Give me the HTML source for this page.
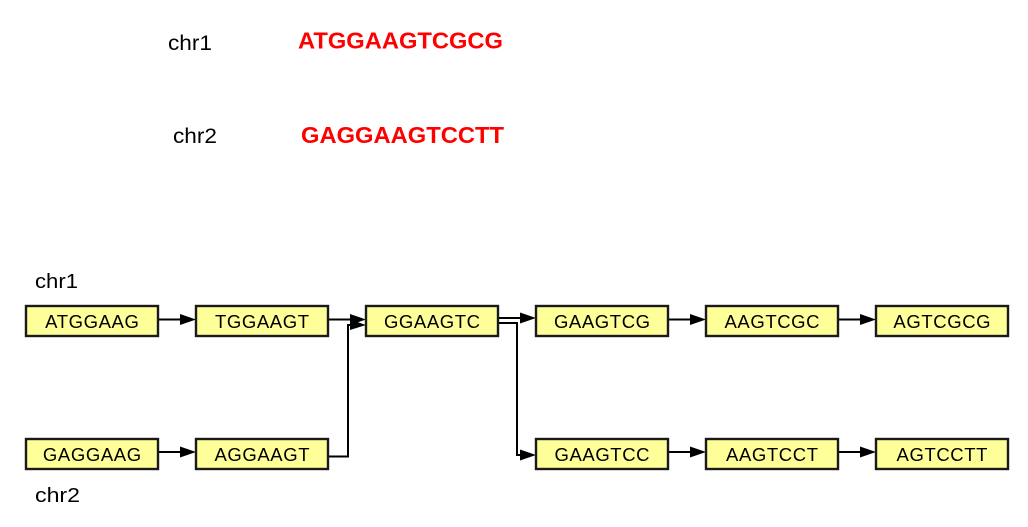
<!DOCTYPE html>
<html>
<head>
<meta charset="utf-8">
<style>
  html, body { margin: 0; padding: 0; background: #fff; }
  svg { display: block; }
  .box { fill: #FFFF99; stroke: #1a1a1a; stroke-width: 2.4; }
  .bt { font-family: "Liberation Sans", Arial, sans-serif; font-size: 18.5px; letter-spacing: 0.6px; fill: #000; text-anchor: middle; }
  .ln { stroke: #000; stroke-width: 2; fill: none; }
  .ah { fill: #000; }
  .lab { font-family: "Liberation Sans", Arial, sans-serif; fill: #000; }
  .seq { font-family: "Liberation Sans", Arial, sans-serif; font-weight: bold; fill: #FF0000; }
</style>
</head>
<body>
<svg width="1028" height="527" viewBox="0 0 1028 527" xmlns="http://www.w3.org/2000/svg">
  <!-- top sequences -->
  <text class="lab" x="168" y="50" font-size="21" textLength="44" lengthAdjust="spacingAndGlyphs">chr1</text>
  <text class="seq" x="298" y="48.5" font-size="23" textLength="205" lengthAdjust="spacingAndGlyphs">ATGGAAGTCGCG</text>
  <text class="lab" x="173" y="143" font-size="21" textLength="44" lengthAdjust="spacingAndGlyphs">chr2</text>
  <text class="seq" x="301" y="143" font-size="23" textLength="203" lengthAdjust="spacingAndGlyphs">GAGGAAGTCCTT</text>

  <!-- lower labels -->
  <text class="lab" x="35" y="288" font-size="20" textLength="43" lengthAdjust="spacingAndGlyphs">chr1</text>
  <text class="lab" x="35" y="502" font-size="20" textLength="45" lengthAdjust="spacingAndGlyphs">chr2</text>

  <!-- connectors row 1 -->
  <line class="ln" x1="159" y1="319.5" x2="182" y2="319.5"/>
  <polygon class="ah" points="180,314 196,319.5 180,325"/>
  <line class="ln" x1="329" y1="319.5" x2="352" y2="319.5"/>
  <polygon class="ah" points="350,314 366,319.5 350,325"/>
  <!-- from AGGAAGT up to GGAAGTC -->
  <polyline class="ln" points="329,456.5 348,456.5 348,325 352,325"/>
  <polygon class="ah" points="350,319.5 366,325 350,330"/>

  <!-- from GGAAGTC -->
  <line class="ln" x1="499" y1="318" x2="522" y2="318"/>
  <polygon class="ah" points="520,312.5 536,318 520,323.5"/>
  <polyline class="ln" points="499,323 517,323 517,455 522,455"/>
  <polygon class="ah" points="520,449.5 536,455 520,460.5"/>

  <line class="ln" x1="668" y1="319.5" x2="692" y2="319.5"/>
  <polygon class="ah" points="690,314 706,319.5 690,325"/>
  <line class="ln" x1="838" y1="319.5" x2="862" y2="319.5"/>
  <polygon class="ah" points="860,314 876,319.5 860,325"/>

  <!-- connectors row 2 -->
  <line class="ln" x1="159" y1="452" x2="182" y2="452"/>
  <polygon class="ah" points="180,446.5 196,452 180,457.5"/>
  <line class="ln" x1="668" y1="452" x2="692" y2="452"/>
  <polygon class="ah" points="690,446.5 706,452 690,457.5"/>
  <line class="ln" x1="838" y1="452" x2="862" y2="452"/>
  <polygon class="ah" points="860,446.5 876,452 860,457.5"/>

  <!-- row 1 boxes -->
  <rect class="box" x="26" y="306" width="132" height="30"/>
  <text class="bt" x="92.3" y="328">ATGGAAG</text>
  <rect class="box" x="196" y="306" width="132" height="30"/>
  <text class="bt" x="262.3" y="328">TGGAAGT</text>
  <rect class="box" x="366" y="306" width="132" height="30"/>
  <text class="bt" x="432.3" y="328">GGAAGTC</text>
  <rect class="box" x="536" y="306" width="132" height="30"/>
  <text class="bt" x="602.3" y="328">GAAGTCG</text>
  <rect class="box" x="706" y="306" width="132" height="30"/>
  <text class="bt" x="772.3" y="328">AAGTCGC</text>
  <rect class="box" x="876" y="306" width="132" height="30"/>
  <text class="bt" x="942.3" y="328">AGTCGCG</text>

  <!-- row 2 boxes -->
  <rect class="box" x="26" y="439" width="132" height="30"/>
  <text class="bt" x="92.3" y="461">GAGGAAG</text>
  <rect class="box" x="196" y="439" width="132" height="30"/>
  <text class="bt" x="262.3" y="461">AGGAAGT</text>
  <rect class="box" x="536" y="439" width="132" height="30"/>
  <text class="bt" x="602.3" y="461">GAAGTCC</text>
  <rect class="box" x="706" y="439" width="132" height="30"/>
  <text class="bt" x="772.3" y="461">AAGTCCT</text>
  <rect class="box" x="876" y="439" width="132" height="30"/>
  <text class="bt" x="942.3" y="461">AGTCCTT</text>
</svg>
</body>
</html>
